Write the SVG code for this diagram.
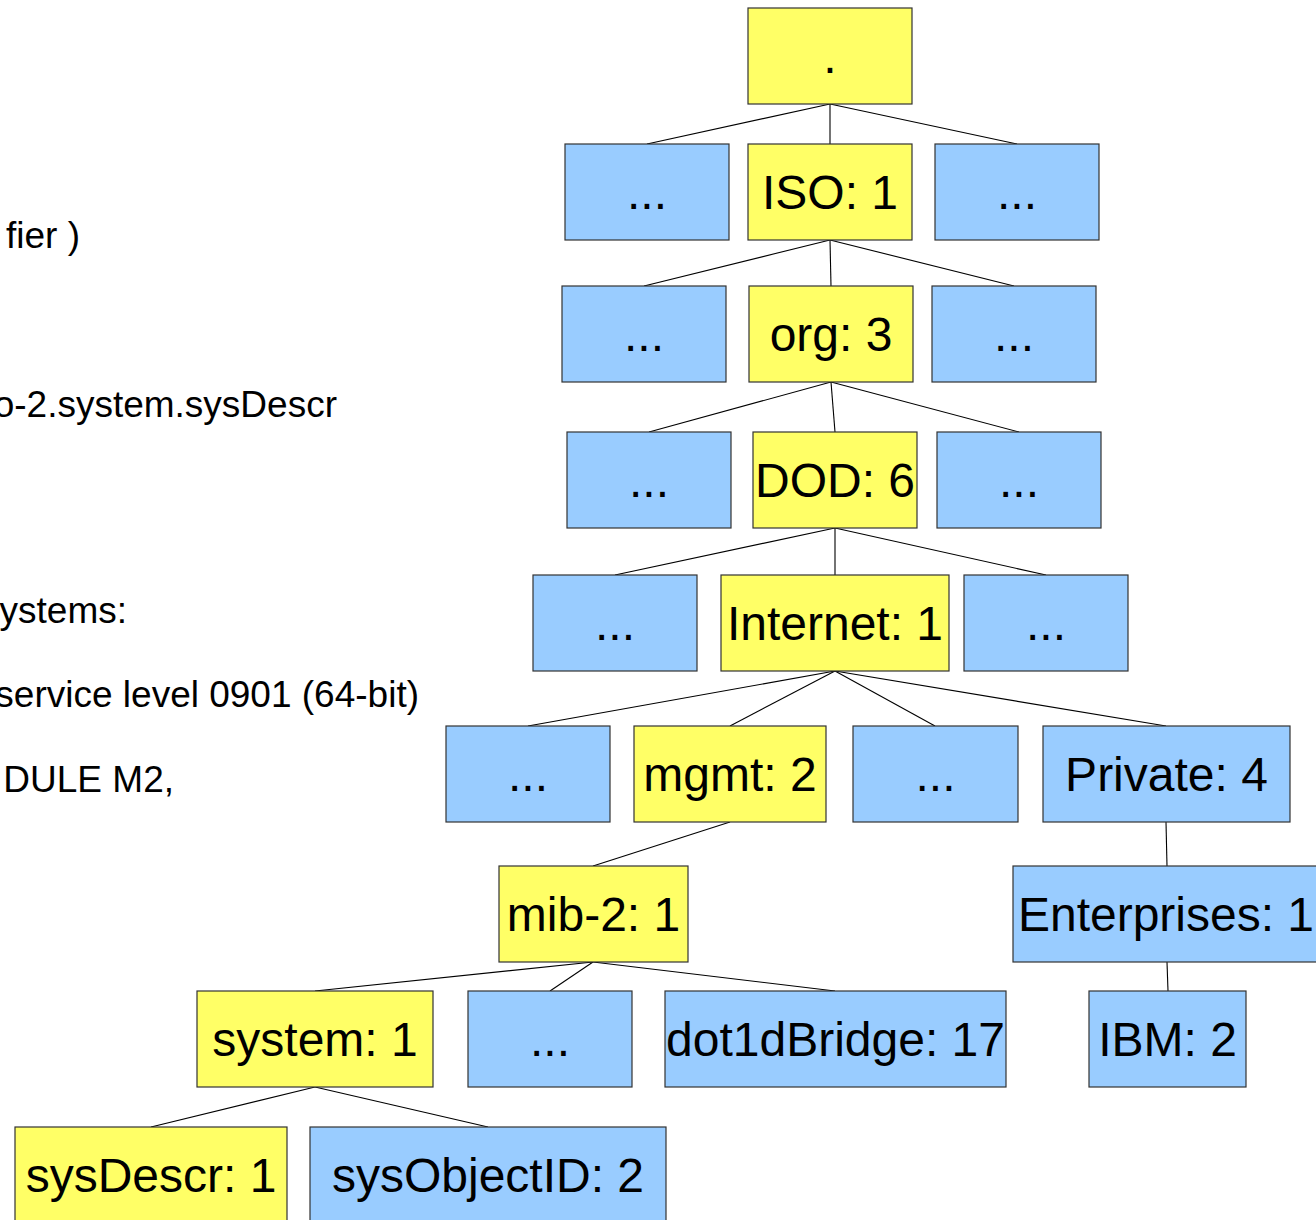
<svg xmlns="http://www.w3.org/2000/svg" width="1316" height="1220" viewBox="0 0 1316 1220">
<style>
.y{fill:#ffff66;stroke:#333;stroke-width:1.2}
.b{fill:#99ccff;stroke:#333;stroke-width:1.2}
.t{font-family:"Liberation Sans",Arial,sans-serif;font-size:48px;fill:#000;text-anchor:middle}
.l{font-family:"Liberation Sans",Arial,sans-serif;font-size:37px;fill:#000;text-anchor:end}
#connectors line{stroke:#000;stroke-width:1.1}
</style>
<rect width="1316" height="1220" fill="#fff"/>
<g id="left-text">
<text class="l" x="80" y="248">fier )</text>
<text class="l" x="337" y="417">o-2.system.sysDescr</text>
<text class="l" x="127" y="623">ystems:</text>
<text class="l" x="419" y="707">service level 0901 (64-bit)</text>
<text class="l" x="174" y="792">DULE M2,</text>
</g>
<g id="connectors">
<line x1="830" y1="104" x2="647" y2="144"/>
<line x1="830" y1="104" x2="830" y2="144"/>
<line x1="830" y1="104" x2="1017" y2="144"/>
<line x1="830" y1="240" x2="644" y2="286"/>
<line x1="830" y1="240" x2="831" y2="286"/>
<line x1="830" y1="240" x2="1014" y2="286"/>
<line x1="831" y1="382" x2="649" y2="432"/>
<line x1="831" y1="382" x2="835" y2="432"/>
<line x1="831" y1="382" x2="1019" y2="432"/>
<line x1="835" y1="528" x2="615" y2="575"/>
<line x1="835" y1="528" x2="835" y2="575"/>
<line x1="835" y1="528" x2="1046" y2="575"/>
<line x1="835" y1="671" x2="528" y2="726"/>
<line x1="835" y1="671" x2="730" y2="726"/>
<line x1="835" y1="671" x2="935" y2="726"/>
<line x1="835" y1="671" x2="1166" y2="726"/>
<line x1="730" y1="822" x2="593" y2="866"/>
<line x1="1166" y1="822" x2="1167" y2="866"/>
<line x1="593" y1="962" x2="315" y2="991"/>
<line x1="593" y1="962" x2="550" y2="991"/>
<line x1="593" y1="962" x2="835" y2="991"/>
<line x1="1167" y1="962" x2="1168" y2="991"/>
<line x1="315" y1="1087" x2="151" y2="1127"/>
<line x1="315" y1="1087" x2="488" y2="1127"/>
</g>
<g id="root"><rect class="y" x="748" y="8" width="164" height="96"/><text class="t" x="830" y="73">.</text></g>
<g id="r1a"><rect class="b" x="565" y="144" width="164" height="96"/><text class="t" x="647" y="209">...</text></g>
<g id="iso"><rect class="y" x="748" y="144" width="164" height="96"/><text class="t" x="830" y="209">ISO: 1</text></g>
<g id="r1c"><rect class="b" x="935" y="144" width="164" height="96"/><text class="t" x="1017" y="209">...</text></g>
<g id="r2a"><rect class="b" x="562" y="286" width="164" height="96"/><text class="t" x="644" y="351">...</text></g>
<g id="org"><rect class="y" x="749" y="286" width="164" height="96"/><text class="t" x="831" y="351">org: 3</text></g>
<g id="r2c"><rect class="b" x="932" y="286" width="164" height="96"/><text class="t" x="1014" y="351">...</text></g>
<g id="r3a"><rect class="b" x="567" y="432" width="164" height="96"/><text class="t" x="649" y="497">...</text></g>
<g id="dod"><rect class="y" x="753" y="432" width="164" height="96"/><text class="t" x="835" y="497">DOD: 6</text></g>
<g id="r3c"><rect class="b" x="937" y="432" width="164" height="96"/><text class="t" x="1019" y="497">...</text></g>
<g id="r4a"><rect class="b" x="533" y="575" width="164" height="96"/><text class="t" x="615" y="640">...</text></g>
<g id="internet"><rect class="y" x="721" y="575" width="228" height="96"/><text class="t" x="835" y="640">Internet: 1</text></g>
<g id="r4c"><rect class="b" x="964" y="575" width="164" height="96"/><text class="t" x="1046" y="640">...</text></g>
<g id="r5a"><rect class="b" x="446" y="726" width="164" height="96"/><text class="t" x="528" y="791">...</text></g>
<g id="mgmt"><rect class="y" x="634" y="726" width="192" height="96"/><text class="t" x="730" y="791">mgmt: 2</text></g>
<g id="r5c"><rect class="b" x="853" y="726" width="165" height="96"/><text class="t" x="935.5" y="791">...</text></g>
<g id="private"><rect class="b" x="1043" y="726" width="247" height="96"/><text class="t" x="1166.5" y="791">Private: 4</text></g>
<g id="mib2"><rect class="y" x="499" y="866" width="189" height="96"/><text class="t" x="593.5" y="931">mib-2: 1</text></g>
<g id="enterprises"><rect class="b" x="1013" y="866" width="307" height="96"/><text class="t" x="1166" y="931">Enterprises: 1</text></g>
<g id="system"><rect class="y" x="197" y="991" width="236" height="96"/><text class="t" x="315" y="1056">system: 1</text></g>
<g id="r7b"><rect class="b" x="468" y="991" width="164" height="96"/><text class="t" x="550" y="1056">...</text></g>
<g id="dot1dbridge"><rect class="b" x="665" y="991" width="341" height="96"/><text class="t" x="835.5" y="1056">dot1dBridge: 17</text></g>
<g id="ibm"><rect class="b" x="1089" y="991" width="157" height="96"/><text class="t" x="1167.5" y="1056">IBM: 2</text></g>
<g id="sysdescr"><rect class="y" x="15" y="1127" width="272" height="100"/><text class="t" x="151" y="1192">sysDescr: 1</text></g>
<g id="sysobjectid"><rect class="b" x="310" y="1127" width="356" height="100"/><text class="t" x="488" y="1192">sysObjectID: 2</text></g>
</svg>
